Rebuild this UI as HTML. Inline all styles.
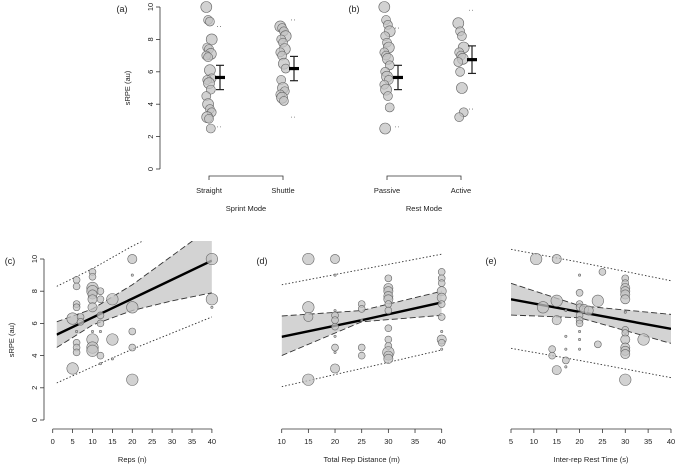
<!DOCTYPE html>
<html><head><meta charset="utf-8">
<style>
html,body{margin:0;padding:0;background:#fff;}
svg{display:block;font-family:"Liberation Sans",sans-serif;}
</style></head>
<body>
<svg id="fig" width="676" height="465" viewBox="0 0 676 465" xmlns="http://www.w3.org/2000/svg"></svg>
<script>
// ---------- DATA ----------
const straightVals = [10,9.2,9.1,8,7.5,7.4,7.1,7.0,6.9,6.1,5.6,5.5,5.3,4.9,4.5,4.0,3.7,3.5,3.2,3.1,2.5];
const shuttleVals  = [8.8,8.7,8.5,8.2,8.0,7.8,7.4,7.2,7.0,6.5,6.2,5.5,5.0,4.8,4.6,4.4,4.2];
const passiveVals  = [10,9.2,8.9,8.5,8.2,7.8,7.5,7.2,7.0,6.8,6.4,6.0,5.7,5.5,5.2,4.9,4.5,3.8,2.5];
const activeVals   = [9.0,8.5,8.2,7.5,7.2,7.0,6.8,6.6,6.0,5.0,3.5,3.2];
const sprintMeans = [5.65,6.2], sprintLo=[4.9,5.45], sprintHi=[6.4,6.95], sprintMin=[2.6,3.2], sprintMax=[8.8,9.2];
const restMeans = [5.65,6.75], restLo=[4.9,5.9], restHi=[6.4,7.6], restMin=[2.6,3.7], restMax=[8.7,9.8];
const sprintCats = ["Straight","Shuttle"], restCats=["Passive","Active"];

const cX=[5,5,6,6,6,6,6,6,6,7,7,10,10,10,10,10,10,10,10,10,10,12,12,12,12,12,15,15,20,20,20,20,20,40,40,6,10,12,12,15,20,40];
const cY=[6.3,3.2,8.7,8.3,7.2,7.0,4.8,4.5,4.2,6.4,6.1,9.2,8.9,8.2,8.0,7.8,7.5,7.0,5.0,4.5,4.3,8.0,7.5,6.5,6.0,4.0,7.5,5.0,10,7.0,5.5,4.5,2.5,10,7.5,5.5,5.5,5.5,3.5,3.8,9,7];
const cR=[5,5,3,3,3,3,3,3,3,3,3,3,3,5,5,4,4,4,5,5,5,3,3,3,3,3,5,5,4,5,3,3,5,5,5,1,1,1,1,1,1,1];
const cBandX=[1,10,20,30,40], cFit=[5.3,6.36,7.54,8.72,9.9];
const cCiLo=[4.5,5.9,6.8,7.4,7.9], cCiHi=[6.1,6.9,8.4,10.2,12.0];
const cPiLo=[2.3,3.3,4.4,5.4,6.4], cPiHi=[8.3,9.4,10.8,12,13];

const dX=[15,20,15,15,20,20,20,20,20,15,25,25,25,25,30,30,30,30,30,30,30,30,30,30,30,30,30,40,40,40,40,40,40,40,40,40,20,20,20,20,25,40,40];
const dY=[10,10,7.0,6.4,6.5,6.2,5.8,4.5,3.2,2.5,7.2,6.9,4.5,4.0,8.8,8.2,8.0,7.7,7.5,7.2,6.8,5.7,5.0,4.6,4.2,4.0,3.8,9.2,8.8,8.5,8.0,7.6,7.2,6.4,5.0,4.8,9,6.8,5.2,4.2,6.2,5.5,4.4];
const dR=[5,4,5,4,3,3,3,3,4,5,3,3,3,3,3,4,4,4,4,3,3,3,3,3,5,4,4,3,3,3,4,4,3,3,4,3,1,1,1,1,1,1,1];
const dBandX=[10,25,40], dFit=[5.17,6.2,7.3];
const dCiLo=[4.0,6.1,6.5], dCiHi=[6.46,6.8,8.0];
const dPiLo=[2.07,3.2,4.35], dPiHi=[8.4,9.35,10.3];

const eX=[10.5,15,25,30,30,30,30,30,30,20,20,15,12,24,20,20,21,22,20,20,20,15,17,30,30,30,30,30,30,34,24,14,14,17,15,30,17,17,20,20,20,17,30];
const eY=[10,10,9.2,8.8,8.5,8.2,8.0,7.8,7.5,9.0,7.9,7.4,7.0,7.4,7.2,7.0,6.9,6.8,6.5,6.2,6.0,6.2,6.8,5.6,5.4,5.0,4.5,4.3,4.1,5.0,4.7,4.4,4.0,3.7,3.1,2.5,5.2,4.4,5.5,5.0,4.4,3.3,6.7];
const eR=[5,4,3,3,3,4,4,4,4,1,3,5,5,5,3,3,4,4,3,3,3,4,1,3,3,4,4,4,4,5,3,3,3,3,4,5,1,1,1,1,1,1,1];
const eBandX=[5,20,40], eFit=[7.5,6.71,5.66];
const eCiLo=[6.52,6.35,4.76], eCiHi=[8.49,7.1,6.56];
const ePiLo=[4.45,3.7,2.63], ePiHi=[10.6,9.8,8.65];

// ---------- DRAWING ----------
const svg=document.getElementById('fig');
const NS='http://www.w3.org/2000/svg';
function el(tag,attrs,parent){const e=document.createElementNS(NS,tag);for(const k in attrs)e.setAttribute(k,attrs[k]);(parent||svg).appendChild(e);return e;}
function txt(x,y,s,size,anchor,rot,parent){const t=el('text',{x:x,y:y,'font-size':size,'text-anchor':anchor||'middle',fill:'#222'},parent);if(rot)t.setAttribute('transform','rotate(-90 '+x+' '+y+')');t.textContent=s;return t;}

const topY=v=>169-v*16.2;
function yAxis(x,yf,name){
  const g=el('g',{});
  
  
  el('line',{x1:x,y1:yf(0),x2:x,y2:yf(10),stroke:'#333','stroke-width':0.8},g);
  for(let v=0;v<=10;v+=2){el('line',{x1:x-4,y1:yf(v),x2:x,y2:yf(v),stroke:'#333','stroke-width':0.8},g);txt(x-7,yf(v),String(v),7.5,'middle',true,g);}
}
function bubble(cx,cy,r,g){el('circle',{cx:cx,cy:cy,r:r,fill:'rgba(195,195,195,0.75)',stroke:'#666','stroke-width':0.6},g);}

function catPanel(cx,vals,mean,lo,hi,mn,mx,name){
  const g=el('g',{});
  
  
  vals.forEach((v,i)=>{const j=((i*37)%7-3)*0.9;const r=i%3===0?5.5:4.5;bubble(cx+j,topY(v),r,g);});
  const ex=cx+11;
  el('line',{x1:ex,y1:topY(lo),x2:ex,y2:topY(hi),stroke:'#222','stroke-width':1.2},g);
  el('line',{x1:ex-4,y1:topY(lo),x2:ex+4,y2:topY(lo),stroke:'#222','stroke-width':1.2},g);
  el('line',{x1:ex-4,y1:topY(hi),x2:ex+4,y2:topY(hi),stroke:'#222','stroke-width':1.2},g);
  el('rect',{x:ex-5,y:topY(mean)-1.6,width:10,height:3.2,fill:'#000'},g);
  [mn,mx].forEach(v=>{el('line',{x1:cx+8,y1:topY(v),x2:cx+14,y2:topY(v),stroke:'#777','stroke-width':0.8,'stroke-dasharray':'1,2'},g);});
}
function catAxis(x1,x2,labels,title,name){
  const g=el('g',{});
  
  
  el('path',{d:`M${x1},180 V176 H${x2} V180`,fill:'none',stroke:'#333','stroke-width':0.8},g);
  txt(x1,193,labels[0],7.5,'middle',false,g);txt(x2,193,labels[1],7.5,'middle',false,g);
  txt((x1+x2)/2,211,title,7.5,'middle',false,g);
}
txt(122,12,'(a)',9,'middle');
yAxis(160,topY,'panel-a-y-axis');
txt(130,88,'sRPE  (au)',7.5,'middle',true);
catPanel(209,straightVals,sprintMeans[0],sprintLo[0],sprintHi[0],sprintMin[0],sprintMax[0],'straight-group');
catPanel(283,shuttleVals,sprintMeans[1],sprintLo[1],sprintHi[1],sprintMin[1],sprintMax[1],'shuttle-group');
catAxis(209,283,sprintCats,'Sprint Mode','sprint-mode-axis');
txt(354,12,'(b)',9,'middle');
catPanel(387,passiveVals,restMeans[0],restLo[0],restHi[0],restMin[0],restMax[0],'passive-group');
catPanel(461,activeVals,restMeans[1],restLo[1],restHi[1],restMin[1],restMax[1],'active-group');
catAxis(387,461,restCats,'Rest Mode','rest-mode-axis');

const botY=v=>420-v*16.1;
function regPanel(opt){
  const xs=v=>opt.x0+(v-opt.v0)*opt.k;
  const g=el('g',{});
  
  
  const cid='clip-'+opt.name;
  const cp=el('clipPath',{id:cid},g);
  el('rect',{x:opt.x0-30,y:241,width:opt.k*(opt.v1-opt.v0)+60,height:190},cp);
  const bcid='bclip-'+opt.name;
  const bcp=el('clipPath',{id:bcid},g);
  el('rect',{x:xs(opt.bx[0]),y:241,width:xs(opt.bx[opt.bx.length-1])-xs(opt.bx[0]),height:190},bcp);
  const pg=el('g',{'clip-path':`url(#${cid})`},g);
  const bg=el('g',{'clip-path':`url(#${bcid})`},pg);
  const bx=opt.bx;
  const pts=v=>bx.map((x,i)=>xs(x)+','+botY(v[i]));
  el('polygon',{points:pts(opt.ciHi).concat(pts(opt.ciLo).reverse()).join(' '),fill:'#d3d3d3',stroke:'none'},bg);
  [opt.ciHi,opt.ciLo].forEach(a=>el('polyline',{points:pts(a).join(' '),fill:'none',stroke:'#333','stroke-width':0.9,'stroke-dasharray':'6,3'},bg));
  [opt.piHi,opt.piLo].forEach(a=>el('polyline',{points:pts(a).join(' '),fill:'none',stroke:'#333','stroke-width':0.9,'stroke-dasharray':'1.5,2'},bg));
  opt.X.forEach((x,i)=>bubble(xs(x),botY(opt.Y[i]),opt.R[i]*1.15,pg));
  el('polyline',{points:pts(opt.fit).join(' '),fill:'none',stroke:'#000','stroke-width':2.4},bg);
  el('line',{x1:xs(opt.v0),y1:429,x2:xs(opt.v1),y2:429,stroke:'#333','stroke-width':0.8},g);
  for(let v=opt.v0;v<=opt.v1;v+=5){el('line',{x1:xs(v),y1:429,x2:xs(v),y2:433,stroke:'#333','stroke-width':0.8},g);txt(xs(v),444,String(v),7.5,'middle',false,g);}
  txt((xs(opt.v0)+xs(opt.v1))/2,462,opt.title,7.5,'middle',false,g);
  txt(opt.lx,264,opt.label,9,'middle');
}
regPanel({name:'panel-c-reps',x0:52.7,v0:0,v1:40,k:3.98,X:cX,Y:cY,R:cR,bx:cBandX,fit:cFit,ciLo:cCiLo,ciHi:cCiHi,piLo:cPiLo,piHi:cPiHi,title:'Reps (n)',label:'(c)',lx:10});
yAxis(44,botY,'panel-c-y-axis');
txt(14,340,'sRPE  (au)',7.5,'middle',true);
regPanel({name:'panel-d-distance',x0:281.7,v0:10,v1:40,k:5.333,X:dX,Y:dY,R:dR,bx:dBandX,fit:dFit,ciLo:dCiLo,ciHi:dCiHi,piLo:dPiLo,piHi:dPiHi,title:'Total Rep Distance (m)',label:'(d)',lx:262});
regPanel({name:'panel-e-rest-time',x0:511,v0:5,v1:40,k:4.571,X:eX,Y:eY,R:eR,bx:eBandX,fit:eFit,ciLo:eCiLo,ciHi:eCiHi,piLo:ePiLo,piHi:ePiHi,title:'Inter-rep Rest Time (s)',label:'(e)',lx:491});
</script>
</body></html>
